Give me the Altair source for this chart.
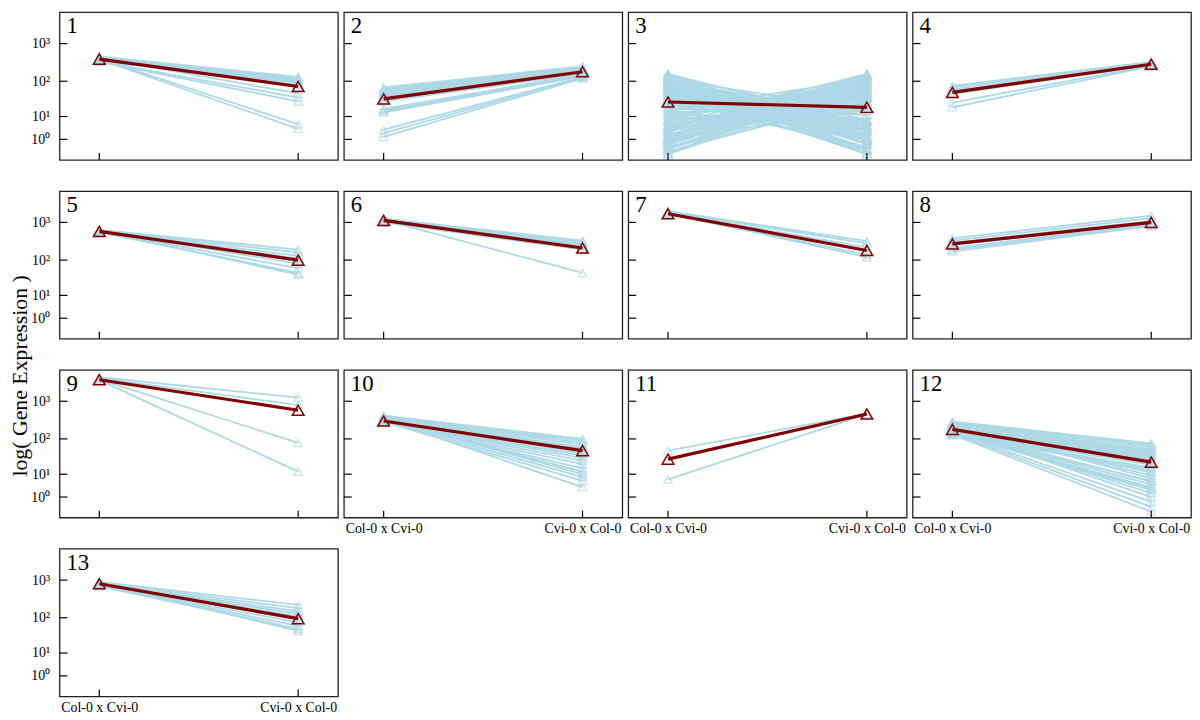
import altair as alt
import pandas as pd

FONT = "Liberation Serif"
CROSSES = ["Col-0 x Cvi-0", "Cvi-0 x Col-0"]
TICK_VALUES = [1, 10, 100, 1000]
Y_TITLE = "log( Gene Expression )"

# ---- data (expression at each cross) ----
p1_left = [460, 440, 420, 400, 390, 380, 370, 360, 350, 430, 410, 340, 330, 400, 380]
p1_right = [130, 120, 115, 110, 105, 100, 95, 90, 80, 70, 47, 36, 28, 5.5, 3.7]
p1_mean = [390, 72]

p2_left = [68, 62, 58, 54, 50, 46, 43, 40, 38, 35, 32, 30, 28, 17, 16, 14.5, 13.5, 3.4, 2.4, 1.5]
p2_right = [250, 240, 230, 220, 210, 200, 195, 185, 180, 175, 170, 165, 160, 150, 145, 140, 135, 130, 125, 120]
p2_mean = [33, 180]

p3_left = [158, 140, 122, 100, 90, 76, 64, 56, 47, 39, 34, 131, 114, 85, 67, 50, 41, 150, 107, 80,
           -1.25, -0.41, 0.1, 0.7, 1.4, 2.0, 2.8, 4.2, 5.3, 6.8, -0.75, 3.4, 7.8, -0.15, 0.45, 1.0, 11.2, 1.8, 4.5, 9,
           30, 22, 15.8, 11.2, 7.8, 27, 18, 13,
           150, 131, 100, 95, 72, 60, 53, 44, 36, 158,
           0.23, 1.4, -1.25, 2.8, 0.7, -0.41, 1.8, 3.4, 1.0, 5.3,
           140, 122, 100, 90, 76, 64, 56, 47, 39, 34, 30, 27, 114, 80, 158,
           7.8, 4.2, 2.8, 0.23, -0.41, -1.25, 1.0, 2.0, 3.4, 5.3, 7.8, 1.4, 15.8, 11.2, 0.7,
           22, 3.4, 15.8, 1.0]
p3_right = [-1.25, -0.41, 0.23, 1.0, 1.4, 2.0, 2.8, 4.2, 5.3, 6.8, -0.41, 3.4, 7.8, -0.75, -0.15, 0.7, 11.2, 2.0, 4.2, 6.8,
            158, 131, 114, 100, 90, 76, 64, 56, 44, 39, 34, 140, 114, 85, 67, 50, 41, 150, 107, 80,
            22, 15.8, 27, 7.8, 15.8, 34, 11.2, 21,
            0.23, 1.4, -1.25, 2.8, 0.7, -0.41, 1.8, 3.4, 1.0, 5.3,
            150, 131, 100, 95, 72, 60, 53, 44, 36, 158,
            7.8, 4.2, 2.8, 0.23, -0.41, -1.25, 1.0, 2.0, 3.4, 5.3, 7.8, 1.4, 15.8, 11.2, 0.7,
            140, 122, 100, 90, 76, 64, 56, 47, 39, 34, 30, 27, 114, 80, 158,
            3.4, 22, 1.0, 15.8]
p3_mean = [27, 19]

p4_left = [75, 68, 60, 55, 50, 45, 26, 19]
p4_right = [330, 320, 300, 290, 280, 270, 260, 250]
p4_mean = [50, 285]

p5_left = [640, 620, 600, 580, 560, 590, 570, 550, 600]
p5_right = [190, 160, 130, 110, 95, 80, 60, 45, 40]
p5_mean = [580, 100]

p6_left = [1250, 1200, 1150, 1100, 1050, 1100, 1000, 1150]
p6_right = [330, 300, 270, 250, 230, 210, 190, 45]
p6_mean = [1130, 210]

p7_left = [2000, 1900, 1800, 1700, 1650, 1750]
p7_right = [320, 280, 220, 180, 140, 120]
p7_mean = [1700, 180]

p8_left = [380, 330, 290, 250, 210, 190, 170]
p8_right = [1500, 1300, 1100, 1000, 900, 850, 800]
p8_mean = [270, 1000]

p9_left = [4300, 4000, 3800, 3600]
p9_right = [1250, 800, 78, 12]
p9_mean = [3700, 580]

p10_left = [420, 400, 380, 360, 350, 340, 330, 320, 310, 300, 290, 280, 300, 320, 340, 310, 290, 330]
p10_right = [100, 90, 80, 70, 60, 55, 45, 40, 35, 30, 25, 20, 15, 12, 10, 8, 6, 3.5]
p10_mean = [300, 48]

p11_left = [48, 6.8]
p11_right = [470, 450]
p11_mean = [28, 460]

p12_left = [290, 270, 250, 230, 210, 200, 190, 180, 170, 160, 150, 140, 130, 125, 200, 220, 240, 180,
            160, 150, 140, 170, 190, 150, 140, 130, 260, 240, 210, 180, 160, 150, 140, 200, 170]
p12_right = [76, 67, 60, 53, 47, 41, 37, 33, 29, 26, 22, 19.5, 15.8, 14, 11.2, 9, 7.3, 5.7,
             4.5, 3.4, 2.6, 1.8, 1.0, 0.23, -0.41, -1.25, 70, 50, 35, 24, 12, 6, 3, 45, 30]
p12_mean = [180, 23]

p13_left = [900, 850, 800, 780, 760, 740, 720, 700, 680, 820]
p13_right = [220, 180, 150, 130, 110, 90, 75, 60, 50, 44]
p13_mean = [800, 95]

PANELS = [
    (p1_left, p1_right, p1_mean), (p2_left, p2_right, p2_mean),
    (p3_left, p3_right, p3_mean), (p4_left, p4_right, p4_mean),
    (p5_left, p5_right, p5_mean), (p6_left, p6_right, p6_mean),
    (p7_left, p7_right, p7_mean), (p8_left, p8_right, p8_mean),
    (p9_left, p9_right, p9_mean), (p10_left, p10_right, p10_mean),
    (p11_left, p11_right, p11_mean), (p12_left, p12_right, p12_mean),
    (p13_left, p13_right, p13_mean),
]
X_LABEL_PANELS = {10, 11, 12, 13}
Y_LABEL_PANELS = {1, 5, 9, 13}
TITLE_PANEL = 5

W, H = 281, 149
BLUE = "#add8e6"
RED = "#800000"

yscale = alt.Scale(type="symlog", constant=2, domain=[-2.63, 6700], nice=False, zero=False)
xscale = alt.Scale(type="point", domain=CROSSES, padding=0.2)

sup = "datum.value == 1 ? '10\u2070' : datum.value == 10 ? '10\u00b9' : datum.value == 100 ? '10\u00b2' : '10\u00b3'"


def make_panel(idx, left, right, mean):
    rows = []
    for g, (a, b) in enumerate(zip(left, right)):
        rows.append({"gene": g, "cross": CROSSES[0], "value": a})
        rows.append({"gene": g, "cross": CROSSES[1], "value": b})
    df = pd.DataFrame(rows)
    mdf = pd.DataFrame({"cross": CROSSES, "value": mean})

    if idx in X_LABEL_PANELS:
        xaxis = alt.Axis(ticks=False, domain=False, grid=False, labelFont=FONT, labelFontSize=14,
                         labelColor="black", labelPadding=4, labelAngle=0)
    else:
        xaxis = None
    if idx in Y_LABEL_PANELS:
        kw = dict(values=TICK_VALUES, labelExpr=sup, ticks=False, domain=False, grid=False,
                  labelFont=FONT, labelFontSize=14, labelColor="black", labelPadding=10)
        if idx == TITLE_PANEL:
            kw.update(titleFont=FONT, titleFontSize=22, titleFontWeight="normal", titleColor="black",
                      titleX=-40, titleY=186, titleAngle=270, titleAlign="center", titleBaseline="middle")
        yaxis = alt.Axis(**kw)
    else:
        yaxis = None

    x_enc = alt.X("cross:N", scale=xscale, axis=xaxis, title=None)
    if idx == TITLE_PANEL:
        y_enc = alt.Y("value:Q", scale=yscale, axis=yaxis, title=Y_TITLE)
    else:
        y_enc = alt.Y("value:Q", scale=yscale, axis=yaxis, title=None)

    base = alt.Chart(df).encode(x=x_enc, y=y_enc)
    lines = base.mark_line(color=BLUE, strokeWidth=1.8).encode(detail="gene:N")
    pts = base.mark_point(shape="triangle-up", filled=False, color=BLUE, size=75, strokeWidth=1.2)
    mbase = alt.Chart(mdf).encode(x=x_enc, y=y_enc)
    mline = mbase.mark_line(color=RED, strokeWidth=3.2)
    mpts = mbase.mark_point(shape="triangle-up", filled=False, color=RED, size=140, strokeWidth=1.5, opacity=1)

    yticks = alt.Chart(pd.DataFrame({"value": TICK_VALUES})).mark_rule(color="black", strokeWidth=1.2).encode(
        y=y_enc, x=alt.value(0), x2=alt.value(8))
    xticks = alt.Chart(pd.DataFrame({"cross": CROSSES})).mark_rule(color="black", strokeWidth=1.2).encode(
        x=x_enc, y=alt.value(H), y2=alt.value(H - 7))
    num = alt.Chart(pd.DataFrame({"n": [str(idx)]})).mark_text(
        font=FONT, fontSize=23, align="left", baseline="top", color="black").encode(
        text="n:N", x=alt.value(7), y=alt.value(3))

    return alt.layer(lines, pts, mline, mpts, yticks, xticks, num).properties(width=W, height=H)


charts = [make_panel(i + 1, *p) for i, p in enumerate(PANELS)]

chart = alt.concat(*charts, columns=4, spacing={"row": 31.5, "column": 6}).properties(
    bounds="flush",
    padding={"left": 0, "top": 0, "right": 0, "bottom": 0},
).configure_view(stroke="#222222", strokeWidth=1.3)

chart.save("out.html", embed_options={"renderer": "svg", "actions": False})
